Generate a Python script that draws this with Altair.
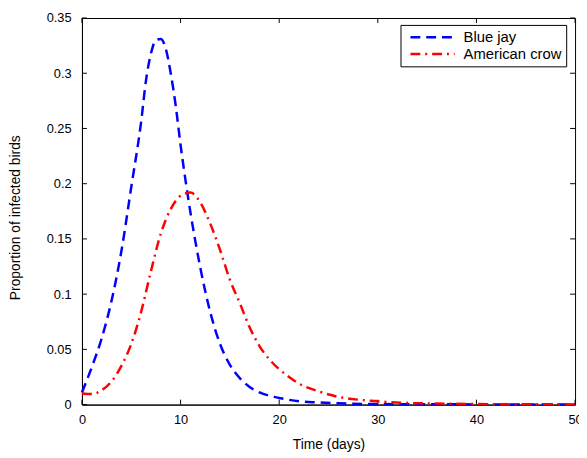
import altair as alt
import pandas as pd

# ---- data ----
blue_t = [0, 1, 2, 3, 4, 5, 6, 6.5, 7, 7.5, 8, 8.5, 9, 9.5, 10, 10.5, 11, 12, 13, 14,
          15, 16, 17, 18, 19, 20, 22, 24, 26, 30, 35, 40, 45, 50]
blue_y = [0.011, 0.034, 0.060, 0.094, 0.139, 0.197, 0.256, 0.294, 0.318, 0.330, 0.331,
          0.322, 0.300, 0.271, 0.235, 0.203, 0.174, 0.124, 0.084, 0.055, 0.036, 0.024,
          0.016, 0.011, 0.008, 0.006, 0.003, 0.002, 0.0012, 0.0005, 0.0003, 0.0002,
          0.0001, 0.0001]
red_t = [0, 1, 2, 3, 4, 5, 6, 7, 8, 9, 10, 11, 12, 13, 14, 15, 16, 17, 18, 19, 20, 21,
         22, 24, 26, 28, 30, 33, 36, 40, 45, 50]
red_y = [0.010, 0.0095, 0.013, 0.021, 0.035, 0.055, 0.084, 0.121, 0.155, 0.177, 0.189,
         0.192, 0.183, 0.164, 0.140, 0.113, 0.092, 0.070, 0.053, 0.041, 0.032, 0.025,
         0.019, 0.012, 0.007, 0.0045, 0.003, 0.0015, 0.001, 0.0005, 0.0003, 0.0002]
series = ["Blue jay", "American crow"]
colors = ["#0000ff", "#ff0000"]
x_ticks = [0, 10, 20, 30, 40, 50]
y_ticks = [0, 0.05, 0.1, 0.15, 0.2, 0.25, 0.3, 0.35]

W, H = 500, 392
FONT = "Liberation Sans"

df = pd.concat([
    pd.DataFrame({"t": blue_t, "y": blue_y, "series": series[0]}),
    pd.DataFrame({"t": red_t, "y": red_y, "series": series[1]}),
])

xscale = alt.Scale(domain=[0, 50], nice=False, zero=False)
yscale = alt.Scale(domain=[0, 0.35], nice=False)

leg = alt.Legend(orient="none", legendX=323, legendY=7)

lines = alt.Chart(df).mark_line(strokeWidth=2.5, interpolate="monotone").encode(
    x=alt.X("t:Q", scale=xscale, title="Time (days)",
            axis=alt.Axis(values=x_ticks, ticks=False, grid=False, labelPadding=9,
                          labelFlush=False, titleY=45, titleBaseline="alphabetic")),
    y=alt.Y("y:Q", scale=yscale, title="Proportion of infected birds",
            axis=alt.Axis(values=y_ticks, ticks=False, grid=False, format="~g",
                          labelPadding=11, labelFlush=False, titleX=-67, titleY=202,
                          titleAngle=270, titleAlign="center", titleBaseline="middle")),
    color=alt.Color("series:N", scale=alt.Scale(domain=series, range=colors), title=None,
                    legend=leg),
    strokeDash=alt.StrokeDash("series:N",
                              scale=alt.Scale(domain=series, range=[[10, 6], [10, 5, 2, 5]]),
                              title=None, legend=leg),
)

xt = pd.DataFrame({"v": x_ticks})
yt = pd.DataFrame({"v": y_ticks})
tb = alt.Chart(xt).mark_rule(color="black", strokeWidth=1).encode(
    x=alt.X("v:Q", scale=xscale), y=alt.value(H), y2=alt.value(H - 5))
tt = alt.Chart(xt).mark_rule(color="black", strokeWidth=1).encode(
    x=alt.X("v:Q", scale=xscale), y=alt.value(0), y2=alt.value(5))
tl = alt.Chart(yt).mark_rule(color="black", strokeWidth=1).encode(
    y=alt.Y("v:Q", scale=yscale), x=alt.value(0), x2=alt.value(5))
tr = alt.Chart(yt).mark_rule(color="black", strokeWidth=1).encode(
    y=alt.Y("v:Q", scale=yscale), x=alt.value(W - 5), x2=alt.value(W))

chart = alt.layer(tb, tt, tl, tr, lines).properties(
    width=W, height=H,
    autosize=alt.AutoSizeParams(type="none"),
    padding={"left": 75, "top": 7, "right": 4, "bottom": 51},
).configure_view(stroke="black", strokeWidth=1).configure_axis(
    domainColor="black", domainWidth=1, labelColor="black", titleColor="black",
    labelFont=FONT, titleFont=FONT, labelFontSize=13, titleFontSize=14,
    titleFontWeight="normal",
).configure_legend(
    strokeColor="black", fillColor="white", padding=4, symbolType="M-3.2,0H3.2",
    symbolSize=196, symbolStrokeWidth=2.5, symbolOffset=20, labelOffset=23,
    labelFont=FONT, labelFontSize=15, labelColor="black", rowPadding=0,
    cornerRadius=0,
).resolve_scale(x="shared", y="shared")

chart.save("out.html", embed_options={"renderer": "svg", "actions": False})
